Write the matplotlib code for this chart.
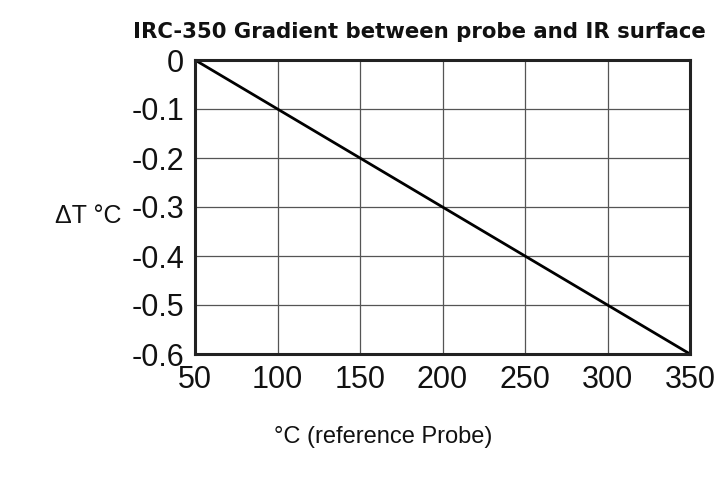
import matplotlib
matplotlib.use("Agg")
import matplotlib.pyplot as plt

probe_temp = [50, 350]
delta_t = [0.0, -0.6]
x_ticks = [50, 100, 150, 200, 250, 300, 350]
y_ticks = [0, -0.1, -0.2, -0.3, -0.4, -0.5, -0.6]
y_tick_labels = ["0", "-0.1", "-0.2", "-0.3", "-0.4", "-0.5", "-0.6"]

fig = plt.figure(figsize=(7.18, 4.83), dpi=100)
left, right, top, bottom = 195, 690, 60, 354
ax = fig.add_axes([left/718, 1-bottom/483, (right-left)/718, (bottom-top)/483])

ax.plot(probe_temp, delta_t, color="black", lw=2, solid_capstyle="butt")
ax.set_xlim(50, 350)
ax.set_ylim(-0.6, 0)
ax.set_xticks(x_ticks)
ax.set_yticks(y_ticks)
ax.set_yticklabels(y_tick_labels)
ax.grid(True, color="#555555", lw=0.9)
ax.set_axisbelow(True)
for s in ax.spines.values():
    s.set_linewidth(2.2)
    s.set_color("#222222")
ax.tick_params(length=0, labelsize=22)
ax.tick_params(axis="y", pad=8)
ax.tick_params(axis="x", pad=8)
for lab in ax.get_xticklabels() + ax.get_yticklabels():
    lab.set_fontfamily("Liberation Sans")
    lab.set_color("#111111")

fig.text(706/718, 1-32/483, "IRC-350 Gradient between probe and IR surface",
         ha="right", va="center", fontsize=15.3, fontweight="bold",
         family="DejaVu Sans", color="#111111")
fig.text(55/718, 1-216/483, "\u0394T \u00b0C", ha="left", va="center",
         fontsize=18, family=["Liberation Sans", "DejaVu Sans"], color="#111111")
fig.text(383/718, 1-437/483, "\u00b0C (reference Probe)", ha="center", va="center",
         fontsize=17, family="Liberation Sans", color="#111111")

fig.savefig("out.png", dpi=100)
